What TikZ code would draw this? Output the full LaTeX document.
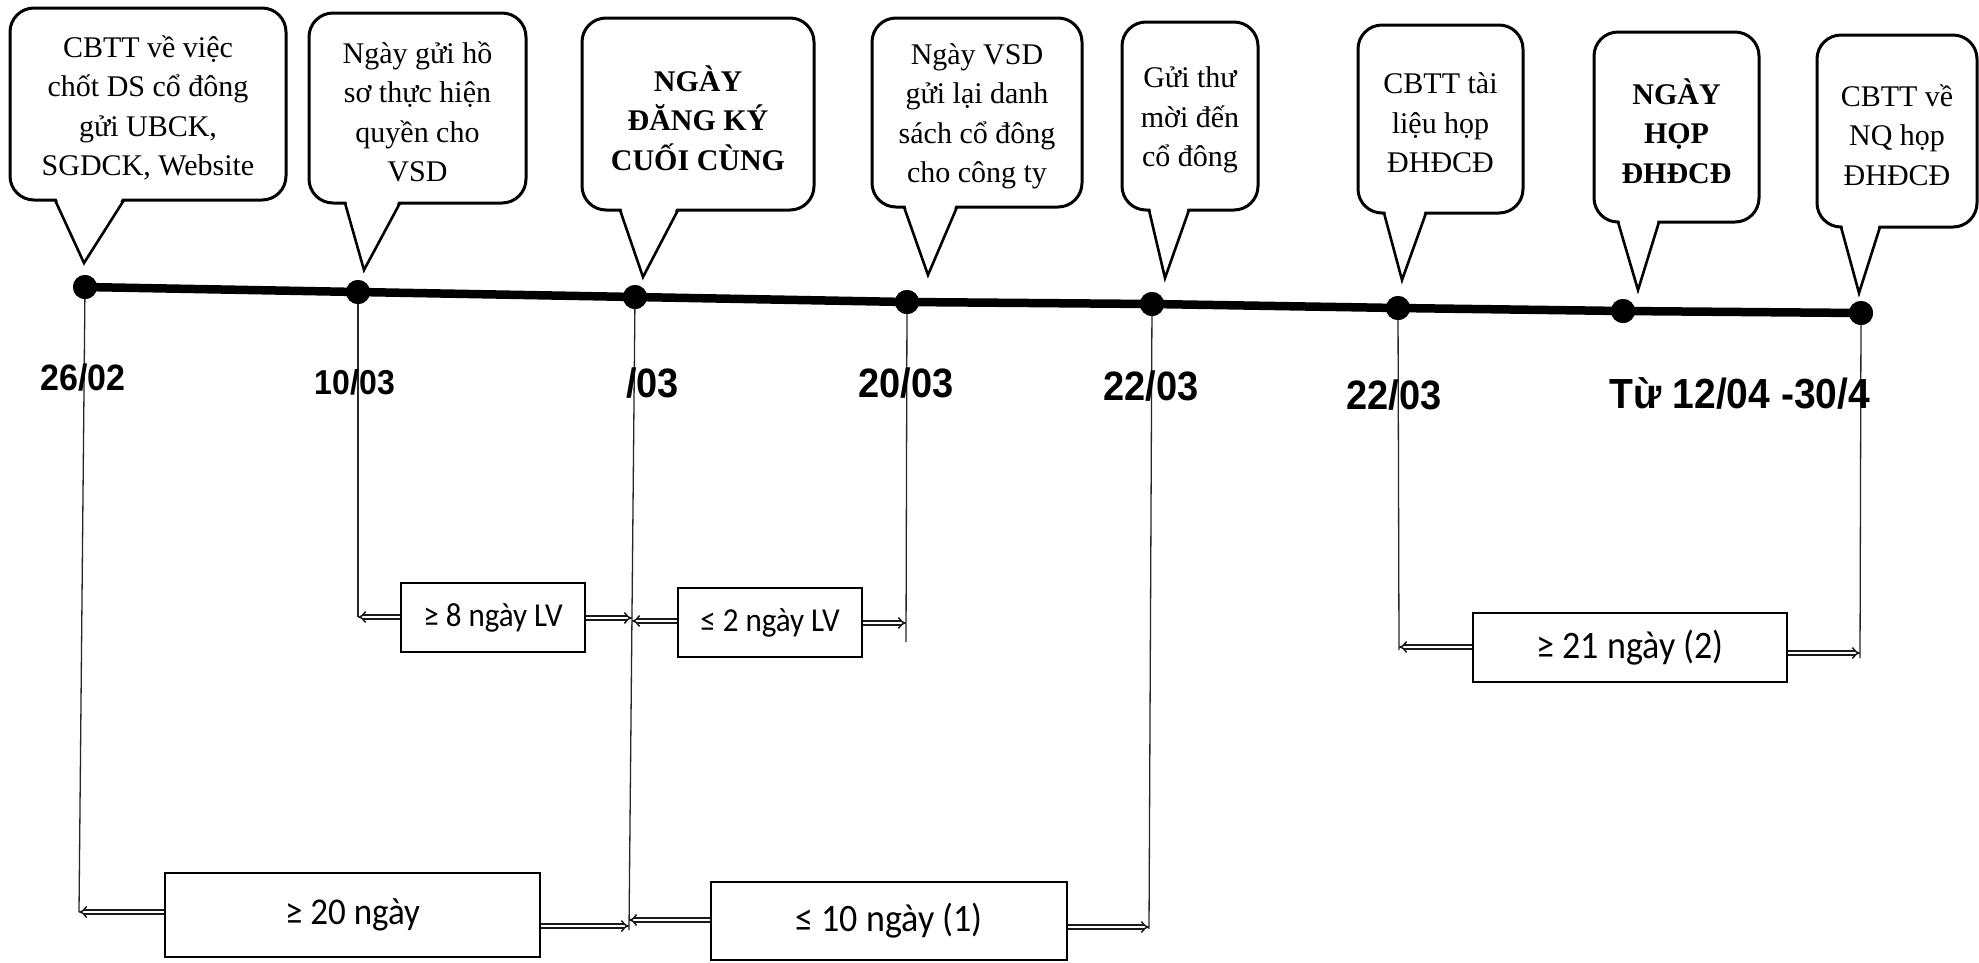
\documentclass[tikz,border=0pt]{standalone}
\usepackage{fontspec}
\usepackage{graphicx}
\setmainfont{Liberation Serif}
\newfontfamily\datefont{Liberation Sans}
\newfontfamily\boxfont{Carlito}
\usetikzlibrary{arrows.meta}

\newcommand\mkbubble[9]{%
  \node[bubble, minimum width={#4-#2}, minimum height={#5-#3}] (#1) at ({(#2+#4)/2},{(#3+#5)/2}) {};
  \node[bubbletext] (#1txt) at ([yshift=-4pt]#1.center) {#9};
  \coordinate (#1tip) at #8;
  \fill[white] (#6+1,#5-3) -- (#1tip) -- (#7-1,#5-3) -- cycle;
  \draw[tail] (#6,#5) -- (#1tip) -- (#7,#5);
}
\newcommand\tall[1]{\scalebox{1}[1.08]{#1}}

\begin{document}
\begin{tikzpicture}[x=1pt,y=-1pt,
  bubble/.style={draw=black, line width=3pt, rounded corners=24pt, fill=white, inner sep=0pt},
  bubbletext/.style={inner sep=0pt, align=center, font=\fontsize{30}{39.5}\selectfont},
  tail/.style={draw=black, line width=2.6pt, line join=miter},
  dot/.style={circle, fill=black, inner sep=0pt, minimum size=24pt},
  timeline/.style={line width=8.5pt, black},
  datelabel/.style={font=\datefont\bfseries\fontsize{38}{40}\selectfont, inner sep=0pt},
  vline/.style={line width=1.3pt, black!85},
  durbox/.style={draw=black, line width=2.3pt, inner sep=0pt, fill=white},
  dbl/.style={double=white, double distance=2.4pt, line width=1.5pt, -{Implies}, black!90}
]
\useasboundingbox (0,0) rectangle (1979,962);
\fill[white] (0,0) rectangle (1979,962);

% bubbles
\mkbubble{b1}{10}{8}{286}{200}{55}{124}{(84,263)}{CBTT về việc\\chốt DS cổ đông\\gửi UBCK,\\SGDCK, Website}
\mkbubble{b2}{309}{13}{526}{203}{345}{400}{(364,270)}{Ngày gửi hồ\\sơ thực hiện\\quyền cho\\VSD}
\mkbubble{b3}{582}{18}{814}{210}{620}{678}{(643,277)}{\textbf{NGÀY}\\\textbf{ĐĂNG KÝ}\\\textbf{CUỐI CÙNG}}
\mkbubble{b4}{872}{18}{1082}{207}{904}{957}{(928,275)}{Ngày VSD\\gửi lại danh\\sách cổ đông\\cho công ty}
\mkbubble{b5}{1122}{22}{1258}{210}{1149}{1189}{(1165,278)}{Gửi thư\\mời đến\\cổ đông}
\mkbubble{b6}{1358}{25}{1523}{213}{1384}{1426}{(1402,280)}{CBTT tài\\liệu họp\\ĐHĐCĐ}
\mkbubble{b7}{1594}{32}{1759}{222}{1618}{1659}{(1638,290)}{\textbf{NGÀY}\\\textbf{HỌP}\\\textbf{ĐHĐCĐ}}
\mkbubble{b8}{1817}{35}{1977}{227}{1841}{1880}{(1859,293)}{CBTT về\\NQ họp\\ĐHĐCĐ}

% timeline dots
\node[dot] (d1) at (85,287) {};
\node[dot] (d2) at (358,292) {};
\node[dot] (d3) at (635,297) {};
\node[dot] (d4) at (907,302) {};
\node[dot] (d5) at (1152,304) {};
\node[dot] (d6) at (1398,308) {};
\node[dot] (d7) at (1623,311) {};
\node[dot] (d8) at (1861,313) {};

% vertical line ends
\coordinate (e1) at (79,912);
\coordinate (e2) at (358,617);
\coordinate (e3) at (629,930);
\coordinate (e4) at (906,642);
\coordinate (e5) at (1149,929);
\coordinate (e6) at (1399,650);
\coordinate (e8) at (1860,658);

\draw[vline] (d1.center) -- (e1);
\draw[vline] (d2.center) -- (e2);
\draw[vline] (d3.center) -- (e3);
\draw[vline] (d4.center) -- (e4);
\draw[vline] (d5.center) -- (e5);
\draw[vline] (d6.center) -- (e6);
\draw[vline] (d8.center) -- (e8);

\draw[timeline] (d1.center) -- (d2.center) -- (d3.center) -- (d4.center) -- (d5.center) -- (d6.center) -- (d7.center) -- (d8.center);
\foreach \n in {d1,d2,d3,d4,d5,d6,d7,d8}
  \fill[black] (\n.center) circle[radius=12pt];

% date labels
\node[datelabel, font=\datefont\bfseries\fontsize{34}{36}\selectfont] (t1) at (83,378) {\tall{26/02}};
\node[datelabel, font=\datefont\bfseries\fontsize{32}{34}\selectfont] (t2) at (355,382) {\tall{10/03}};
\node[datelabel, anchor=west] (t3) at (626,383) {\tall{/03}};
\node[datelabel] (t4) at (906,383) {\tall{20/03}};
\node[datelabel] (t5) at (1151,386) {\tall{22/03}};
\node[datelabel] (t6) at (1394,395) {\tall{22/03}};
\node[datelabel, font=\datefont\bfseries\fontsize{39}{41}\selectfont] (t7) at (1740,393) {\tall{Từ 12/04 -30/4}};

% duration boxes
\node[durbox, minimum width=184, minimum height=69, font=\boxfont\fontsize{31}{34}\selectfont] (bx8) at (493,617.5) {\tall{≥ 8 ngày LV}};
\node[durbox, minimum width=184, minimum height=69, font=\boxfont\fontsize{31}{34}\selectfont] (bx2) at (770,622.5) {\tall{≤ 2 ngày LV}};
\node[durbox, minimum width=314, minimum height=69, font=\boxfont\fontsize{36}{38}\selectfont] (bx21) at (1630,647.5) {\tall{≥ 21 ngày (2)}};
\node[durbox, minimum width=375, minimum height=84, font=\boxfont\fontsize{35}{38}\selectfont] (bx20) at (352.5,915) {\tall{≥ 20 ngày}};
\node[durbox, minimum width=356, minimum height=78, font=\boxfont\fontsize{36}{38}\selectfont] (bx10) at (889,921) {\tall{≤ 10 ngày (1)}};

% arrow tips
\coordinate (a8L) at (358,617);
\coordinate (a8R) at (632,618);
\coordinate (a2L) at (632,621);
\coordinate (a2R) at (906,623);
\coordinate (a21L) at (1399,647);
\coordinate (a21R) at (1860,653);
\coordinate (a20L) at (79,912);
\coordinate (a20R) at (629,926);
\coordinate (a10L) at (629,920);
\coordinate (a10R) at (1149,927);

\draw[dbl] (bx8.west |- a8L) -- (a8L);
\draw[dbl] (bx8.east |- a8R) -- (a8R);
\draw[dbl] (bx2.west |- a2L) -- (a2L);
\draw[dbl] (bx2.east |- a2R) -- (a2R);
\draw[dbl] (bx21.west |- a21L) -- (a21L);
\draw[dbl] (bx21.east |- a21R) -- (a21R);
\draw[dbl] (bx20.west |- a20L) -- (a20L);
\draw[dbl] (bx20.east |- a20R) -- (a20R);
\draw[dbl] (bx10.west |- a10L) -- (a10L);
\draw[dbl] (bx10.east |- a10R) -- (a10R);
\end{tikzpicture}
\end{document}
